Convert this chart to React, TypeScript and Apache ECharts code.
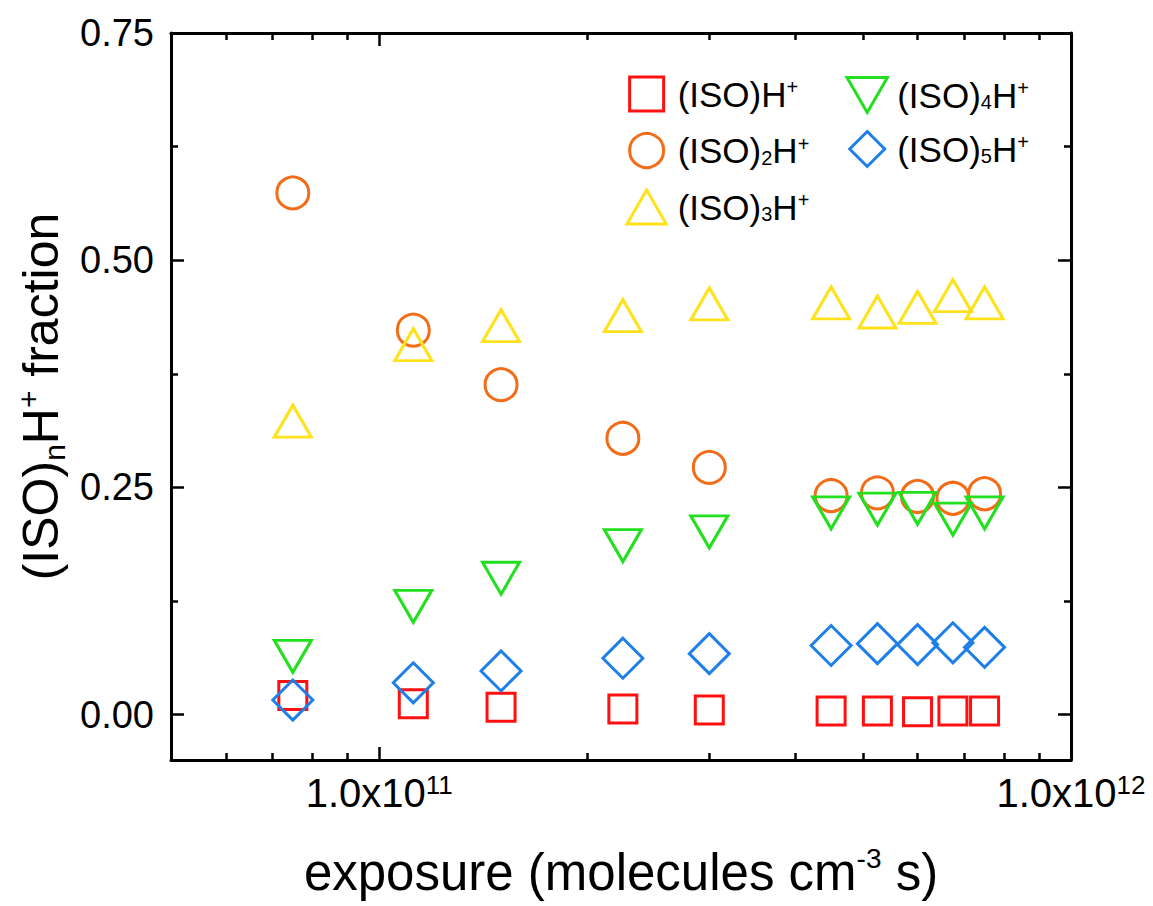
import React, { useEffect, useRef } from 'react';
import * as echarts from 'echarts';

// ---- data ----
const exposure = [7.5e10, 1.12e11, 1.5e11, 2.25e11, 3.0e11, 4.5e11, 5.25e11, 6.0e11, 6.75e11, 7.5e11];
const iso1 = [0.021, 0.012, 0.008, 0.006, 0.005, 0.004, 0.004, 0.003, 0.004, 0.004];
const iso2 = [0.574, 0.423, 0.363, 0.304, 0.272, 0.241, 0.244, 0.24, 0.238, 0.243];
const iso3 = [0.323, 0.407, 0.428, 0.439, 0.452, 0.453, 0.443, 0.448, 0.461, 0.453];
const iso4 = [0.064, 0.119, 0.15, 0.186, 0.201, 0.222, 0.226, 0.227, 0.215, 0.222];
const iso5 = [0.016, 0.035, 0.048, 0.062, 0.067, 0.076, 0.078, 0.077, 0.079, 0.074];

const seriesNames = ['(ISO)H+', '(ISO)2H+', '(ISO)3H+', '(ISO)4H+', '(ISO)5H+'];
const seriesValues = [iso1, iso2, iso3, iso4, iso5];

const xMin = 5e10;
const xMax = 1e12;
const xMajorTicks = [1e11, 1e12];
const xMinorTicks = [6e10, 7e10, 8e10, 9e10, 2e11, 3e11, 4e11, 5e11, 6e11, 7e11, 8e11, 9e11];
const yMin = -0.05;
const yMax = 0.75;
const yMajorTicks = [0, 0.25, 0.5, 0.75];
const yMinorTicks = [0.125, 0.375, 0.625];

// ---- styles ----
const FONT = '"Liberation Sans", Arial, Helvetica, sans-serif';
const colors = ['#FF1010', '#F36C18', '#FFE21C', '#22E01E', '#1F7FE8'];
const SQUARE = 'path://M0,0L10,0L10,10L0,10Z';
const TRI_UP = 'path://M5,0L10,8.66L0,8.66Z';
const TRI_DOWN = 'path://M0,0L10,0L5,8.66Z';
const DIAMOND = 'path://M5,0L10,5L5,10L0,5Z';
const symbols = [SQUARE, 'circle', TRI_UP, TRI_DOWN, DIAMOND];
const symbolSizes: any[] = [28, 32, [37, 32], [37, 32], 40];

const AXIS_W = 3;

function legendLabel(name: string): string {
  const m = name.match(/^\(ISO\)(\d*)H\+$/);
  const n = m ? m[1] : '';
  return '{t|(ISO)}' + (n ? '{sub|' + n + '}' : '') + '{t|H}{sup|+}';
}

const legendRich = {
  t: { fontSize: 35, lineHeight: 34, fontFamily: FONT, color: '#000' },
  sub: { fontSize: 20, lineHeight: 13, verticalAlign: 'bottom', fontFamily: FONT, color: '#000' },
  sup: { fontSize: 20, lineHeight: 16, verticalAlign: 'top', fontFamily: FONT, color: '#000' },
};

function xLabel(v: number): string {
  const e = Math.round(Math.log10(v));
  return '{a|1.0x10}{s|' + e + '}';
}

export default function App() {
  const ref = useRef<HTMLDivElement>(null);
  useEffect(() => {
    const chart = echarts.init(ref.current!, null, { renderer: 'svg' });

    const axisLineOn = { show: true, onZero: false, lineStyle: { color: '#000', width: AXIS_W } };
    const axisLineOff = { show: false, onZero: false };
    const majorTick = (vals: number[]) => ({
      show: true, inside: true, length: 13, customValues: vals,
      lineStyle: { color: '#000', width: 2.5 },
    });
    const minorTick = (vals: number[]) => ({
      show: true, inside: true, length: 7, customValues: vals,
      lineStyle: { color: '#000', width: 2.5 },
    });

    const xBase = {
      type: 'log', logBase: 10, min: xMin, max: xMax, gridIndex: 0,
      splitLine: { show: false }, minorTick: { show: false }, minorSplitLine: { show: false },
    };
    const yBase = {
      type: 'value', min: yMin, max: yMax, gridIndex: 0,
      splitLine: { show: false }, minorTick: { show: false },
    };

    const option: any = {
      animation: false,
      backgroundColor: '#fff',
      grid: { left: 171, right: 82, top: 33, bottom: 146, containLabel: false },
      xAxis: [
        {
          ...xBase, position: 'bottom',
          axisLine: axisLineOn,
          axisTick: majorTick(xMajorTicks),
          axisLabel: {
            show: true, margin: 12, customValues: xMajorTicks, formatter: xLabel,
            rich: {
              a: { fontSize: 40, lineHeight: 42, fontFamily: FONT, color: '#000' },
              s: { fontSize: 26, lineHeight: 24, verticalAlign: 'top', fontFamily: FONT, color: '#000' },
            },
          },
          name: '{a|exposure (molecules cm}{sup|-3}{a| s)}',
          nameLocation: 'middle',
          nameGap: 84,
          nameTextStyle: {
            rich: {
              a: { fontSize: 51, lineHeight: 56, fontFamily: FONT, color: '#000' },
              sup: { fontSize: 28, lineHeight: 32, verticalAlign: 'top', fontFamily: FONT, color: '#000' },
            },
          },
        },
        { ...xBase, position: 'bottom', axisLine: axisLineOff, axisTick: minorTick(xMinorTicks), axisLabel: { show: false } },
        { ...xBase, position: 'top', axisLine: axisLineOn, axisTick: majorTick(xMajorTicks), axisLabel: { show: false } },
        { ...xBase, position: 'top', axisLine: axisLineOff, axisTick: minorTick(xMinorTicks), axisLabel: { show: false } },
      ],
      yAxis: [
        {
          ...yBase, position: 'left',
          axisLine: axisLineOn,
          axisTick: majorTick(yMajorTicks),
          axisLabel: {
            show: true, margin: 17, customValues: yMajorTicks,
            formatter: (v: number) => v.toFixed(2),
            fontSize: 38, fontFamily: FONT, color: '#000',
          },
          name: '{a|(ISO)}{sub|n}{a|H}{sup|+}{a| fraction}',
          nameLocation: 'middle',
          nameRotate: 90,
          nameGap: 98,
          nameTextStyle: {
            rich: {
              a: { fontSize: 50, lineHeight: 56, fontFamily: FONT, color: '#000' },
              sub: { fontSize: 30, lineHeight: 28, verticalAlign: 'bottom', fontFamily: FONT, color: '#000' },
              sup: { fontSize: 30, lineHeight: 30, verticalAlign: 'top', fontFamily: FONT, color: '#000' },
            },
          },
        },
        { ...yBase, position: 'left', axisLine: axisLineOff, axisTick: minorTick(yMinorTicks), axisLabel: { show: false } },
        { ...yBase, position: 'right', axisLine: axisLineOn, axisTick: majorTick(yMajorTicks), axisLabel: { show: false } },
        { ...yBase, position: 'right', axisLine: axisLineOff, axisTick: minorTick(yMinorTicks), axisLabel: { show: false } },
      ],
      legend: [
        {
          data: seriesNames.slice(0, 3).map((n, i) => ({ name: n, icon: symbols[i] })),
          orient: 'vertical', left: 625.5, top: 75.5, padding: 0,
          itemWidth: 52, itemHeight: 34, itemGap: 19.5,
          formatter: legendLabel, selectedMode: false,
          itemStyle: { borderWidth: 3 },
          textStyle: { fontSize: 35, fontFamily: FONT, color: '#000', rich: legendRich },
        },
        {
          data: seriesNames.slice(3).map((n, i) => ({ name: n, icon: symbols[i + 3] })),
          orient: 'vertical', left: 845.5, top: 76, padding: 0,
          itemWidth: 50, itemHeight: 35, itemGap: 16,
          formatter: legendLabel, selectedMode: false,
          itemStyle: { borderWidth: 3 },
          textStyle: { fontSize: 35, fontFamily: FONT, color: '#000', rich: legendRich },
        },
      ],
      series: seriesNames.map((name, k) => ({
        type: 'scatter',
        name,
        xAxisIndex: 0,
        yAxisIndex: 0,
        data: exposure.map((x, i) => [x, seriesValues[k][i]]),
        symbol: symbols[k],
        symbolSize: symbolSizes[k],
        itemStyle: { color: 'rgba(255,255,255,0)', borderColor: colors[k], borderWidth: 3, opacity: 1 },
        emphasis: { disabled: true },
      })),
    };

    chart.setOption(option);
    return () => chart.dispose();
  }, []);

  return (
    <div
      ref={ref}
      style={{ position: 'fixed', left: 0, top: 0, width: 1153, height: 906, background: '#fff' }}
    />
  );
}
